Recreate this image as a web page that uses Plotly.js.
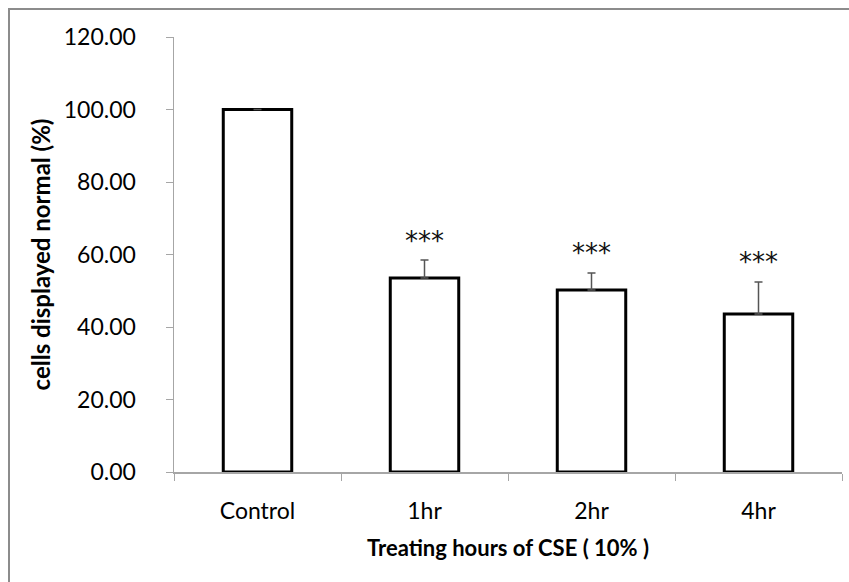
<!DOCTYPE html>
<html>
<head>
<meta charset="utf-8">
<script src="https://cdn.plot.ly/plotly-3.0.1.min.js"></script>
<style>
  html, body { margin: 0; padding: 0; background: #fff; }
  #wrap { position: relative; width: 849px; height: 582px; overflow: hidden; }
  #chart { position: absolute; left: 0; top: 0; width: 849px; height: 582px; }
  #frame { position: absolute; left: 8px; top: 8px; width: 845px; height: 580px;
           border-left: 2px solid #8c8c8c; border-top: 2px solid #8c8c8c; pointer-events: none; }
</style>
</head>
<body>
<div id="wrap">
  <div id="chart"></div>
  <div id="frame"></div>
</div>
<script>
const categories = ["Control", "1hr", "2hr", "4hr"];
const meanValues = [100.0, 53.5, 50.2, 43.6];
const errorPlus = [0, 5.0, 4.7, 8.8];
const significance = ["", "***", "***", "***"];
const starLevels = [null, 65.1, 61.8, 59.3];
const yTickValues = [0, 20, 40, 60, 80, 100, 120];
const yTickLabels = ["0.00", "20.00", "40.00", "60.00", "80.00", "100.00", "120.00"];

const trace = {
  type: "bar",
  x: categories,
  y: meanValues,
  width: 0.41,
  marker: { color: "#ffffff", line: { color: "#000000", width: 3 } },
  error_y: {
    type: "data",
    symmetric: false,
    array: errorPlus,
    arrayminus: errorPlus.map(() => 0),
    color: "#555555",
    thickness: 1.5,
    width: 4
  },
  hoverinfo: "skip"
};

const annotations = [];
categories.forEach((c, i) => {
  if (significance[i]) {
    annotations.push({
      x: c, y: starLevels[i], xref: "x", yref: "y",
      text: significance[i], showarrow: false,
      yanchor: "middle", yshift: -5,
      font: { family: "'DejaVu Sans', sans-serif", size: 26, color: "#111" }
    });
  }
});

const layout = {
  width: 849, height: 582,
  margin: { l: 174, r: 7, t: 37, b: 110 },
  paper_bgcolor: "#ffffff",
  plot_bgcolor: "#ffffff",
  showlegend: false,
  font: { family: "Lato, sans-serif", color: "#000" },
  xaxis: {
    type: "category",
    range: [-0.5, 3.5],
    showline: true, linecolor: "#a6a6a6", linewidth: 1.5,
    ticks: "outside", tickson: "boundaries", ticklen: 7, tickcolor: "#a6a6a6", tickwidth: 1,
    showgrid: false, zeroline: false,
    tickfont: { family: "Lato, sans-serif", size: 23, color: "#000" },
    ticklabelstandoff: 18,
    title: { text: "Treating hours of CSE ( 10% )", standoff: 17,
             font: { family: "Lato, sans-serif", size: 22, color: "#000", weight: "bold" } },
    automargin: false
  },
  yaxis: {
    range: [0, 120],
    tickvals: yTickValues, ticktext: yTickLabels,
    showline: true, linecolor: "#a6a6a6", linewidth: 1.5,
    ticks: "outside", ticklen: 7, tickcolor: "#a6a6a6", tickwidth: 1,
    showgrid: false, zeroline: false,
    tickfont: { family: "Lato, sans-serif", size: 23, color: "#000" },
    ticklabelstandoff: 25,
    title: { text: "cells displayed normal (%)", standoff: 6,
             font: { family: "Lato, sans-serif", size: 24, color: "#000", weight: "bold" } },
    automargin: false
  },
  annotations: annotations
};

Plotly.newPlot("chart", [trace], layout, { staticPlot: true, displayModeBar: false });
</script>
</body>
</html>
